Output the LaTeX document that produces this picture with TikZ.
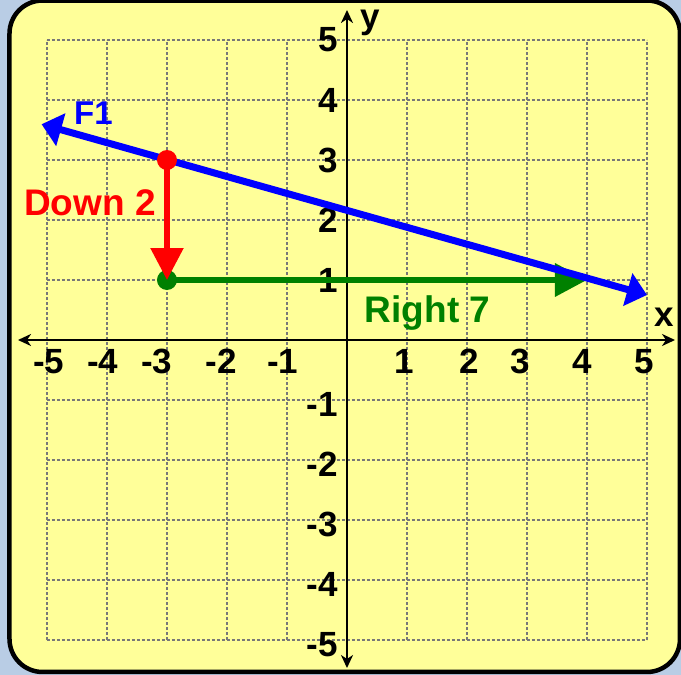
\documentclass[tikz,border=0pt]{standalone}
\usepackage{fontspec}
\setmainfont{Liberation Sans}
\usepackage{tikz}
\usetikzlibrary{arrows.meta}
\definecolor{boardblue}{HTML}{B9CDE5}
\definecolor{boardyellow}{HTML}{FFFF99}
\definecolor{gridgray}{HTML}{787878}
\definecolor{moveblue}{HTML}{0000FF}
\definecolor{movered}{HTML}{FF0000}
\definecolor{movegreen}{HTML}{008000}

\begin{document}
\begin{tikzpicture}[
  x=60pt, y=60pt,
  board/.style={draw=black, line width=4.5pt, fill=boardyellow, rounded corners=33pt},
  gridline/.style={draw=gridgray, line width=2.6pt, dash pattern=on 2.6pt off 2.4pt},
  axis/.style={{Stealth[length=13pt,width=12pt,inset=4pt]}-{Stealth[length=13pt,width=12pt,inset=4pt]},
    line width=2.6pt, draw=black},
  ticknum/.style={font=\fontsize{35}{37}\selectfont\bfseries, inner sep=0pt},
  axisname/.style={font=\fontsize{35}{37}\selectfont\bfseries, inner sep=0pt, anchor=base},
  pointdot/.style={circle, minimum size=20pt, inner sep=0pt},
  fline/.style={{Triangle[length=20pt,width=33pt]}-{Triangle[length=20pt,width=33pt]},
    line width=7pt, draw=moveblue},
  move/.style={-{Triangle[length=32pt,width=32pt]}, line width=6.5pt},
  movelabel/.style={font=\fontsize{37}{39}\selectfont\bfseries, inner sep=0pt, anchor=base}
]
  \useasboundingbox (-5.7833,-5.5833) rectangle (5.5667,5.6667);
  \fill[boardblue] (-5.7833,-5.5833) rectangle (5.5667,5.6667);
  \draw[board] (-5.625,-5.533) rectangle (5.55,5.658);

  % grid and axes
  \draw[gridline, step=60pt] (-5,-5) grid (5,5);
  \coordinate (xleft) at (-5.483,0);
  \coordinate (xright) at (5.467,0);
  \coordinate (ytop) at (0,5.5);
  \coordinate (ybottom) at (0,-5.467);
  \draw[axis] (xleft) -- (xright);
  \draw[axis] (ytop) -- (ybottom);

  \foreach \v/\p [count=\i] in {-5/-4.97,-4/-4.07,-3/-3.17,-2/-2.1,-1/-1.07,
      1/0.95,2/2.03,3/2.88,4/3.92,5/4.95}
    \node[ticknum, anchor=base] (xlab\i) at (\p,-0.55) {\v};
  \foreach \v [count=\i] in {1,...,5}
    \node[ticknum, anchor=base east] (ylab\i) at (-0.15,\v-0.2) {\v};
  \foreach \v [count=\i] in {-1,-2,-3,-4,-5}
    \node[ticknum, anchor=base east] (ynlab\i) at (-0.15,\v-0.28) {\v};
  \node[axisname] (xname) at (5.283,0.217) {x};
  \node[axisname] (yname) at (0.392,5.2) {y};

  % moves
  \node[pointdot] (turn) at (-3,1) {};
  \coordinate (finish) at (4,1);
  \draw[move, draw=movegreen] (turn.center) -- (finish);
  \fill[movegreen] (turn) circle[radius=10pt];

  \coordinate (fleft) at (-5.09,3.596);
  \coordinate (fright) at (5,0.75);
  \draw[fline] (fleft) -- (fright);

  \node[pointdot, fill=movered] (start) at (-3,3) {};
  \draw[move, draw=movered, line width=5.5pt] (start.center) -- (turn.center);

  \node[movelabel, text=moveblue, font=\fontsize{33}{35}\selectfont\bfseries] (fname) at (-4.225,3.6) {F1};
  \node[movelabel, text=movered] (downlabel) at (-4.283,2.083) {Down 2};
  \node[movelabel, text=movegreen] (rightlabel) at (1.342,0.3) {Right 7};
\end{tikzpicture}
\end{document}
